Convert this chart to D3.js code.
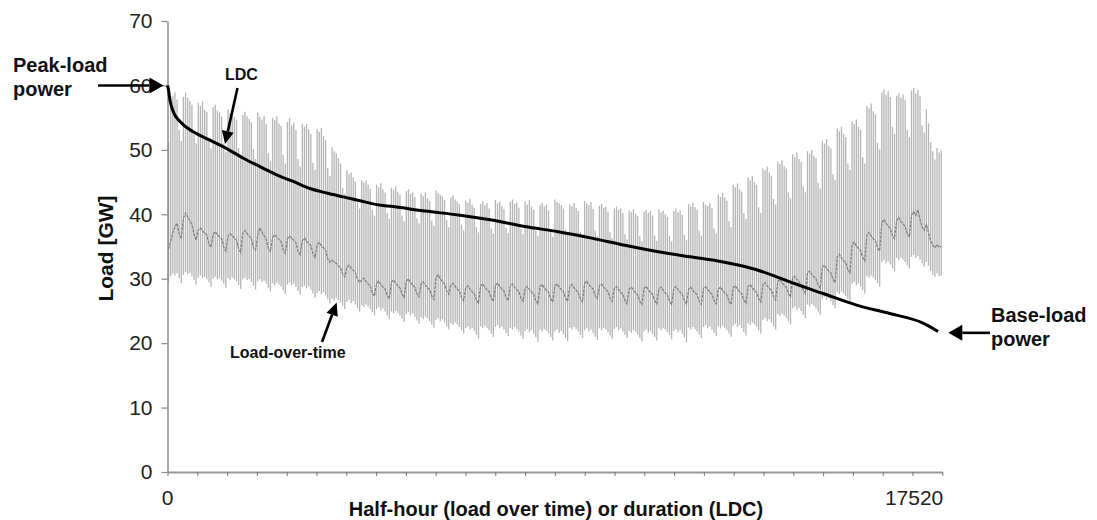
<!DOCTYPE html>
<html>
<head>
<meta charset="utf-8">
<script src="https://cdn.jsdelivr.net/npm/d3@7"></script>
<style>
  html, body { margin: 0; padding: 0; background: #fff; }
  svg { display: block; }
  text { font-family: "Liberation Sans", Arial, Helvetica, sans-serif; }
</style>
</head>
<body>
<svg id="chart" width="1097" height="520"></svg>
<script>
// Half-hourly load over one year, summarised per day (GW): daily maximum,
// daily minimum and the darker mid-level trace. Seven days per row.
const dayPeak = [
  51.2, 57.6, 58.4, 58.9, 57.8, 53.1, 51.4,
  58.2, 58.9, 58.1, 57.6, 57.0, 52.4, 51.0,
  57.3, 56.8, 57.5, 56.2, 55.9, 51.6, 50.2,
  56.6, 57.0, 56.1, 55.8, 55.2, 51.0, 49.7,
  56.3, 55.7, 56.0, 55.1, 54.6, 50.3, 49.1,
  55.4, 55.9, 55.2, 54.8, 54.3, 50.1, 48.6,
  55.8, 55.1, 54.7, 55.3, 54.0, 49.5, 48.3,
  55.0, 54.6, 55.2, 54.1, 53.7, 49.2, 47.9,
  54.3, 54.9, 53.8, 54.2, 53.1, 48.6, 47.4,
  54.1, 53.6, 54.0, 53.2, 52.5, 48.0, 46.9,
  53.2, 52.8, 53.4, 52.1, 51.5, 47.2, 46.0,
  50.4, 49.8, 49.5, 48.7, 47.9, 44.1, 43.2,
  46.8, 46.2, 46.5, 45.7, 45.1, 41.8, 40.9,
  45.3, 44.9, 45.2, 44.6, 44.0, 40.7, 39.8,
  44.6, 44.2, 44.8, 43.9, 43.4, 40.2, 39.3,
  44.1, 43.8, 44.3, 43.5, 43.0, 39.8, 38.9,
  43.6, 43.9, 43.2, 43.4, 42.7, 39.4, 38.6,
  43.2, 42.8, 43.4, 42.5, 42.1, 39.0, 38.2,
  43.7, 43.3, 43.0, 42.8, 42.2, 39.1, 38.0,
  42.6, 42.9, 42.3, 42.0, 41.6, 38.4, 37.5,
  42.1, 41.8, 42.4, 41.5, 41.0, 38.0, 37.2,
  41.6, 42.0, 41.4, 41.7, 40.9, 37.8, 37.0,
  42.2, 41.7, 42.0, 41.3, 40.8, 37.9, 37.1,
  41.9, 42.3, 41.6, 41.8, 41.0, 37.7, 36.9,
  42.0, 41.5, 42.2, 41.2, 40.7, 37.5, 36.6,
  41.4, 41.8, 41.2, 41.5, 40.6, 37.4, 36.5,
  42.3, 41.9, 41.7, 41.4, 40.9, 37.6, 36.8,
  41.5, 41.2, 41.8, 41.0, 40.5, 37.3, 36.4,
  42.1, 41.7, 41.4, 41.9, 40.8, 37.5, 36.6,
  41.3, 41.6, 41.0, 41.2, 40.4, 37.2, 36.3,
  40.9, 41.2, 40.7, 40.9, 40.2, 36.9, 36.1,
  40.6, 40.3, 40.8, 40.1, 39.7, 36.6, 35.8,
  40.4, 40.7, 40.2, 40.5, 39.8, 36.7, 35.9,
  40.8, 40.3, 40.6, 40.0, 39.6, 36.6, 35.8,
  40.5, 40.9, 40.3, 40.6, 39.9, 36.8, 36.0,
  41.6, 41.2, 41.8, 41.1, 40.7, 37.5, 36.7,
  41.9, 41.5, 41.3, 41.7, 41.0, 37.8, 37.0,
  43.1, 42.7, 43.3, 42.6, 42.1, 38.9, 38.0,
  44.6, 44.2, 44.8, 43.9, 43.5, 40.2, 39.3,
  45.7, 45.3, 45.9, 45.0, 44.6, 41.1, 40.2,
  47.1, 46.8, 47.4, 46.5, 46.0, 42.4, 41.5,
  48.2, 47.8, 48.4, 47.5, 47.1, 43.4, 42.5,
  49.3, 48.9, 49.6, 48.6, 48.1, 44.3, 43.4,
  49.8, 49.4, 50.0, 49.1, 48.7, 44.9, 44.0,
  51.4, 51.0, 51.7, 50.6, 50.2, 46.2, 45.3,
  53.3, 52.9, 53.6, 52.5, 52.0, 47.9, 46.9,
  54.4, 54.0, 54.7, 53.6, 53.1, 48.9, 47.9,
  56.8, 56.4, 57.2, 56.0, 55.5, 51.1, 50.1,
  58.9, 59.4, 58.6, 59.1, 58.2, 53.6, 52.5,
  58.4, 58.8, 58.1, 58.6, 57.7, 53.1, 52.0,
  59.2, 59.6, 58.8, 59.3, 58.4, 53.8, 52.7,
  56.3, 54.1, 51.2, 49.8, 48.5, 50.3, 49.6,
  49.9
];

const dayTrough = [
  29.6, 30.4, 30.8, 30.5, 30.9, 30.1, 29.3,
  30.6, 31.0, 30.7, 30.9, 30.4, 29.8, 29.1,
  30.2, 30.5, 30.1, 30.3, 29.9, 29.4, 28.8,
  30.0, 30.3, 29.9, 30.1, 29.7, 29.2, 28.6,
  30.1, 29.8, 30.2, 29.9, 29.6, 29.0, 28.4,
  29.9, 30.2, 29.8, 30.0, 29.5, 28.9, 28.3,
  29.6, 29.9, 29.5, 29.7, 29.2, 28.6, 28.0,
  29.3, 29.0, 29.4, 29.1, 28.8, 28.2, 27.6,
  29.1, 29.4, 29.0, 29.2, 28.7, 28.1, 27.5,
  28.7, 28.9, 28.5, 28.8, 28.3, 27.7, 27.1,
  27.8, 28.1, 27.6, 27.9, 27.4, 26.8, 26.2,
  26.9, 26.6, 27.0, 26.7, 26.3, 25.8, 25.3,
  26.4, 26.7, 26.2, 26.5, 26.0, 25.4, 24.9,
  25.9, 25.6, 26.0, 25.7, 25.3, 24.8, 24.3,
  25.3, 25.6, 25.1, 25.4, 24.9, 24.3, 23.8,
  24.9, 24.6, 25.0, 24.7, 24.3, 23.8, 23.3,
  24.5, 24.8, 24.3, 24.6, 24.1, 23.5, 23.0,
  24.0, 23.7, 24.1, 23.8, 23.4, 22.9, 22.4,
  23.6, 23.9, 23.4, 23.7, 23.2, 22.6, 22.1,
  23.1, 22.8, 23.2, 22.9, 22.5, 22.0, 21.5,
  22.3, 22.6, 22.1, 22.4, 21.9, 21.3, 20.7,
  22.6, 22.3, 22.7, 22.4, 22.0, 21.5, 21.0,
  22.5, 22.8, 22.3, 22.6, 22.1, 21.6, 21.1,
  22.4, 22.1, 22.5, 22.2, 21.8, 21.2, 20.7,
  21.9, 22.2, 21.7, 22.0, 21.5, 20.9, 20.2,
  22.1, 21.8, 22.2, 21.9, 21.5, 20.9, 20.4,
  21.8, 22.1, 21.6, 21.9, 21.4, 20.8, 20.3,
  22.4, 22.1, 22.5, 22.2, 21.8, 21.3, 20.8,
  22.0, 22.3, 21.8, 22.1, 21.6, 21.0, 20.5,
  22.3, 22.0, 22.4, 22.1, 21.7, 21.2, 20.7,
  22.2, 22.5, 22.0, 22.3, 21.8, 21.3, 20.8,
  21.9, 21.6, 22.0, 21.7, 21.3, 20.8, 20.3,
  21.8, 22.1, 21.6, 21.9, 21.4, 20.9, 20.4,
  22.3, 22.0, 22.4, 22.1, 21.7, 21.2, 20.6,
  21.9, 22.2, 21.7, 22.0, 21.5, 20.9, 20.1,
  22.4, 22.1, 22.5, 22.2, 21.8, 21.3, 20.8,
  22.5, 22.8, 22.3, 22.6, 22.1, 21.6, 21.1,
  22.6, 22.3, 22.7, 22.4, 22.0, 21.5, 21.0,
  22.7, 23.0, 22.5, 22.8, 22.3, 21.7, 21.2,
  23.1, 22.8, 23.2, 22.9, 22.5, 22.0, 21.5,
  23.6, 23.9, 23.4, 23.7, 23.2, 22.6, 22.1,
  24.5, 24.2, 24.6, 24.3, 23.9, 23.4, 22.9,
  25.4, 25.7, 25.2, 25.5, 25.0, 24.4, 23.9,
  26.0, 25.7, 26.1, 25.8, 25.4, 24.9, 24.4,
  26.9, 27.2, 26.7, 27.0, 26.5, 25.9, 25.4,
  27.9, 27.6, 28.0, 27.7, 27.3, 26.8, 26.3,
  29.2, 29.5, 29.0, 29.3, 28.8, 28.2, 27.7,
  30.4, 30.1, 30.5, 30.2, 29.8, 29.3, 28.8,
  32.6, 32.9, 32.4, 32.7, 32.2, 31.6, 31.1,
  33.2, 32.9, 33.3, 33.0, 32.6, 32.1, 31.6,
  33.4, 33.7, 33.2, 33.5, 33.0, 32.4, 31.9,
  32.6, 32.0, 31.2, 30.6, 30.3, 30.8, 30.4,
  30.5
];

const dayMid = [
  34.6, 35.8, 37.2, 38.1, 38.6, 37.0, 36.2,
  39.4, 40.2, 39.6, 39.0, 38.5, 36.9, 36.0,
  37.6, 37.9, 37.4, 37.1, 36.8, 35.4, 34.9,
  36.9, 37.3, 36.8, 36.5, 36.2, 34.9, 34.3,
  36.6, 37.0, 36.7, 36.3, 36.0, 34.6, 34.1,
  37.1, 37.5, 37.0, 36.6, 36.3, 34.8, 34.4,
  36.8, 37.9, 37.2, 36.7, 36.1, 34.7, 34.2,
  36.4, 36.8, 36.5, 36.1, 35.8, 34.5, 33.9,
  36.2, 36.6, 36.3, 35.9, 35.6, 34.2, 33.7,
  35.9, 36.3, 35.8, 35.5, 35.2, 33.9, 33.3,
  35.3, 35.6, 35.1, 34.8, 34.4, 33.1, 32.6,
  32.9, 32.6, 32.4, 32.0, 31.7, 30.8, 30.3,
  31.8, 32.1, 31.6, 31.3, 31.0, 29.9, 29.4,
  29.8, 30.1, 29.6, 29.2, 28.9, 27.8, 27.3,
  29.3, 29.6, 29.1, 28.7, 28.4, 27.4, 26.9,
  29.5, 29.8, 29.3, 28.9, 28.6, 27.6, 27.1,
  29.6, 30.0, 29.4, 29.0, 28.7, 27.7, 27.2,
  29.2, 29.5, 29.0, 28.6, 28.3, 27.3, 26.8,
  30.2, 30.6, 30.0, 29.6, 29.2, 28.1, 27.6,
  29.0, 29.3, 28.8, 28.4, 28.1, 27.1, 26.6,
  28.6, 28.9, 28.4, 28.0, 27.7, 26.7, 26.2,
  28.9, 29.2, 28.7, 28.3, 28.0, 27.0, 26.5,
  29.0, 29.3, 28.8, 28.4, 28.1, 27.1, 26.6,
  28.9, 29.2, 28.7, 28.3, 28.0, 27.0, 26.5,
  28.5, 28.8, 28.3, 27.9, 27.6, 26.6, 26.1,
  28.8, 29.1, 28.6, 28.2, 27.9, 26.9, 26.4,
  28.9, 29.2, 28.7, 28.3, 28.0, 27.0, 26.5,
  28.8, 29.1, 28.6, 28.2, 27.9, 26.9, 26.4,
  29.3, 29.6, 29.1, 28.7, 28.4, 27.4, 26.9,
  28.9, 29.2, 28.7, 28.3, 28.0, 27.0, 26.5,
  28.5, 28.8, 28.3, 27.9, 27.6, 26.6, 26.1,
  28.4, 28.7, 28.2, 27.8, 27.5, 26.5, 26.0,
  28.5, 28.8, 28.3, 27.9, 27.6, 26.6, 26.1,
  28.4, 28.7, 28.2, 27.8, 27.5, 26.5, 26.0,
  28.5, 28.8, 28.3, 27.9, 27.6, 26.6, 26.1,
  28.4, 28.7, 28.2, 27.8, 27.5, 26.5, 26.0,
  28.5, 28.8, 28.3, 27.9, 27.6, 26.6, 26.1,
  28.4, 28.7, 28.2, 27.8, 27.5, 26.5, 26.0,
  28.6, 28.9, 28.4, 28.0, 27.7, 26.7, 26.2,
  28.8, 29.1, 28.6, 28.2, 27.9, 26.9, 26.4,
  29.1, 29.4, 28.9, 28.5, 28.2, 27.2, 26.7,
  29.6, 29.9, 29.4, 29.0, 28.7, 27.7, 27.2,
  30.1, 30.4, 29.9, 29.5, 29.2, 28.2, 27.7,
  30.9, 31.2, 30.7, 30.3, 30.0, 29.0, 28.5,
  31.8, 32.1, 31.6, 31.2, 30.9, 29.9, 29.4,
  33.4, 33.8, 33.2, 32.8, 32.5, 31.4, 30.9,
  35.3, 35.7, 35.1, 34.7, 34.4, 33.3, 32.8,
  36.8, 37.2, 36.6, 36.2, 35.9, 34.8, 34.3,
  38.7, 39.2, 38.6, 38.2, 37.8, 36.7, 36.2,
  39.0, 39.5, 38.9, 38.5, 38.1, 37.0, 36.5,
  39.9, 40.4, 39.8, 40.7, 39.2, 38.0, 37.5,
  38.4, 37.1, 35.9, 35.2, 34.8, 35.3, 34.9,
  35.0
];

// Load duration curve: half-hour rank and load (GW)
const ldcHalfHour = [0, 15, 57, 131, 283, 583, 961, 1338, 1714, 2091, 2469, 2844,
  3221, 3599, 3974, 4352, 4729, 5105, 5821, 6574, 7329, 8082, 8835, 9590, 10343,
  11095, 11812, 12565, 13320, 13772, 14073, 14825, 15580, 16333, 17086, 17425];
const ldcLoad = [60.0, 59.6, 57.7, 55.9, 54.4, 52.8, 51.5, 50.2, 48.7, 47.4, 46.1, 45.1,
  44.0, 43.3, 42.7, 42.1, 41.5, 41.2, 40.5, 39.9, 39.1, 38.1, 37.3, 36.3, 35.2,
  34.2, 33.4, 32.6, 31.4, 30.3, 29.5, 27.7, 25.9, 24.6, 23.1, 21.8];

const yTicks = [0, 10, 20, 30, 40, 50, 60, 70];
const xEndLabels = [0, 17520];
const xTickIntervals = 26;
const halfHoursPerDay = 48;

const svg = d3.select("#chart");
const W = 1097, H = 520;
svg.append("rect").attr("width", W).attr("height", H).attr("fill", "#fff");

const x = d3.scaleLinear().domain([0, 17520]).range([167.5, 942.3]);
const y = d3.scaleLinear().domain([0, 70]).range([472, 21]);

// Load over time: one vertical stroke per day, min to max
const days = dayPeak.map((p, i) => ({ i, peak: p, trough: dayTrough[i], mid: dayMid[i] }));
svg.append("g").selectAll("line").data(days).join("line")
  .attr("x1", d => x(d.i * halfHoursPerDay + halfHoursPerDay / 2))
  .attr("x2", d => x(d.i * halfHoursPerDay + halfHoursPerDay / 2))
  .attr("y1", d => y(d.trough))
  .attr("y2", d => y(d.peak))
  .attr("stroke", "#b4b4b4")
  .attr("stroke-width", 1.3);

// Darker mid-level trace
svg.append("path")
  .datum(days)
  .attr("fill", "none")
  .attr("stroke", "#7c7c7c")
  .attr("stroke-width", 1.2)
  .attr("stroke-dasharray", "3,1")
  .attr("d", d3.line()
    .x(d => x(d.i * halfHoursPerDay + halfHoursPerDay / 2))
    .y(d => y(d.mid)));

// Axes
const yAxis = d3.axisLeft(y).tickValues(yTicks).tickSize(6).tickPadding(9).tickSizeOuter(0);
const gy = svg.append("g").attr("transform", `translate(${x(0)},0)`).call(yAxis);
gy.select(".domain").attr("stroke", "#8a8a8a").attr("stroke-width", 1.5);
gy.selectAll(".tick line").attr("stroke", "#8a8a8a").attr("stroke-width", 1.2);
gy.selectAll(".tick text").attr("fill", "#222").attr("font-size", 21)
  .attr("font-family", "'Liberation Sans', Arial, sans-serif");

const xTickValues = d3.range(xTickIntervals + 1).map(k => k * 17520 / xTickIntervals);
const xAxis = d3.axisBottom(x).tickValues(xTickValues).tickSize(4).tickFormat("").tickSizeOuter(0);
const gx = svg.append("g").attr("transform", `translate(0,${y(0)})`).call(xAxis);
gx.select(".domain").attr("stroke", "#9a9a9a").attr("stroke-width", 2);
gx.selectAll(".tick line").attr("stroke", "#777").attr("stroke-width", 1);

// End labels of the horizontal axis
svg.append("text").attr("x", x(xEndLabels[0])).attr("y", 505)
  .attr("text-anchor", "middle").attr("font-size", 21).attr("fill", "#222")
  .text(xEndLabels[0]);
svg.append("text").attr("x", x(xEndLabels[1]) + 1).attr("y", 505)
  .attr("text-anchor", "end").attr("font-size", 21).attr("fill", "#222")
  .text(xEndLabels[1]);

// Load duration curve
svg.append("path")
  .datum(ldcHalfHour.map((h, i) => [h, ldcLoad[i]]))
  .attr("fill", "none")
  .attr("stroke", "#000")
  .attr("stroke-width", 3)
  .attr("stroke-linejoin", "round")
  .attr("d", d3.line().x(d => x(d[0])).y(d => y(d[1])).curve(d3.curveMonotoneX));

// Axis titles
svg.append("text")
  .attr("transform", `translate(113,${(y(0) + y(70)) / 2 + 2}) rotate(-90)`)
  .attr("text-anchor", "middle").attr("font-size", 21).attr("font-weight", "bold")
  .attr("fill", "#111").text("Load [GW]");
svg.append("text")
  .attr("x", 556).attr("y", 516)
  .attr("text-anchor", "middle").attr("font-size", 20).attr("font-weight", "bold")
  .attr("fill", "#111").text("Half-hour (load over time) or duration (LDC)");

// Annotation arrows
function arrow(x1, y1, x2, y2, headLen, headHalf) {
  const dx = x2 - x1, dy = y2 - y1, len = Math.hypot(dx, dy);
  const ux = dx / len, uy = dy / len;
  const bx = x2 - ux * headLen, by = y2 - uy * headLen;
  svg.append("line").attr("x1", x1).attr("y1", y1).attr("x2", bx).attr("y2", by)
    .attr("stroke", "#000").attr("stroke-width", 2.6);
  svg.append("path")
    .attr("d", `M${x2},${y2}L${bx - uy * headHalf},${by + ux * headHalf}L${bx + uy * headHalf},${by - ux * headHalf}Z`)
    .attr("fill", "#000");
}
arrow(98, y(60), x(0) - 4, y(60), 14, 8);
arrow(990, y(21.6), x(17520) + 6, y(21.6), 14, 8);
arrow(237.5, 88, x(1300), y(50.9), 13, 6);
arrow(322, 342, x(3825), y(26.3), 13, 6);

function label(lines, x0, y0, size, lh) {
  lines.forEach((t, i) => {
    svg.append("text").attr("x", x0).attr("y", y0 + i * lh)
      .attr("font-size", size).attr("font-weight", "bold").attr("fill", "#111").text(t);
  });
}
label(["Peak-load", "power"], 13, 72, 20, 24);
label(["Base-load", "power"], 991, 322, 20, 24);
label(["LDC"], 225, 80, 16, 0);
label(["Load-over-time"], 230, 358, 16, 0);
</script>
</body>
</html>
